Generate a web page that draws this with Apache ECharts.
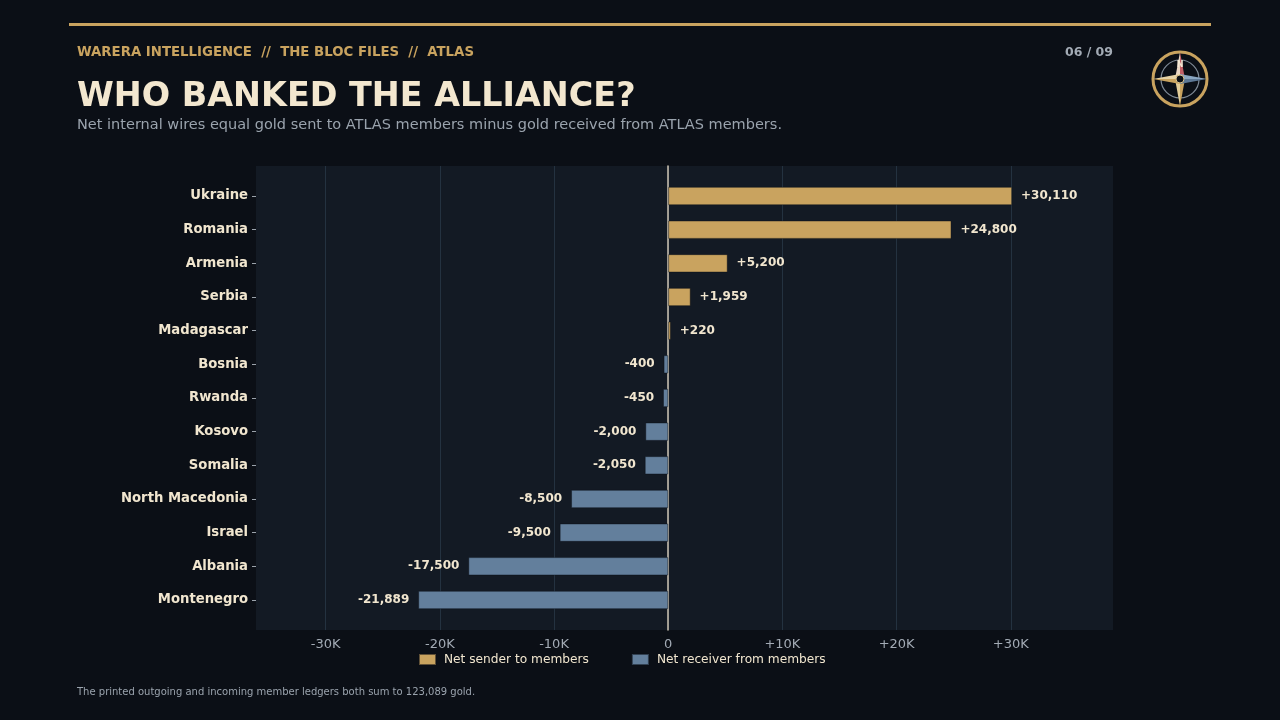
<!DOCTYPE html>
<html>
<head>
<meta charset="utf-8">
<script src="https://cdn.jsdelivr.net/npm/echarts@6/dist/echarts.min.js"></script>
<style>
html,body{margin:0;padding:0;background:#0b0f16;}
#c{width:1280px;height:720px;}
</style>
</head>
<body>
<div id="c"></div>
<script>
const categories = ["Ukraine","Romania","Armenia","Serbia","Madagascar","Bosnia","Rwanda","Kosovo","Somalia","North Macedonia","Israel","Albania","Montenegro"];
const netValues = [30110, 24800, 5200, 1959, 220, -400, -450, -2000, -2050, -8500, -9500, -17500, -21889];
const tickValues = [-30000, -20000, -10000, 0, 10000, 20000, 30000];
const tickLabels = ["-30K", "-20K", "-10K", "0", "+10K", "+20K", "+30K"];
const seriesNames = ["Net sender to members", "Net receiver from members"];

const GOLD = '#c9a35f', BLUE = '#637f9c', CREAM = '#f1e6cf', GRAY = '#a3abb5', FONT = 'DejaVu Sans';
const XMIN = -36100, XMAX = 38950;

const senders = netValues.map(v => v >= 0 ? v : '-');
const receivers = netValues.map(v => v < 0 ? v : '-');
const fmt = v => (v > 0 ? '+' : '') + v.toLocaleString('en-US');

const chart = echarts.init(document.getElementById('c'), null, {renderer: 'canvas'});
const cx = 1180, cy = 79;
const option = {
  backgroundColor: '#0b0f16',
  animation: false,
  textStyle: {fontFamily: FONT},
  grid: [
    {left: 256, right: 167, top: 166, bottom: 90, show: true, backgroundColor: '#131a24', borderWidth: 0},
    {left: 256, right: 167, top: 179.2, bottom: 103.2, show: false}
  ],
  legend: {
    left: 418, top: 653, padding: 0, itemWidth: 17, itemHeight: 11, itemGap: 42,
    icon: 'rect',
    textStyle: {color: CREAM, fontSize: 12.2, fontFamily: FONT, padding: [0, 0, 0, 3]},
    data: seriesNames
  },
  xAxis: [
    {
      type: 'value', gridIndex: 0, min: XMIN, max: XMAX,
      axisLine: {show: false},
      axisTick: {show: false, customValues: tickValues},
      splitLine: {show: true, lineStyle: {color: '#243240', width: 1}},
      axisLabel: {
        customValues: tickValues, color: GRAY, fontSize: 13, margin: 8, fontFamily: FONT,
        formatter: v => { const i = tickValues.indexOf(v); return i >= 0 ? tickLabels[i] : ''; }
      }
    },
    {
      type: 'value', gridIndex: 1, min: XMIN, max: XMAX,
      axisLine: {show: false}, axisTick: {show: false}, splitLine: {show: false}, axisLabel: {show: false}
    }
  ],
  yAxis: [
    {
      type: 'value', gridIndex: 0, min: 0, max: 1,
      axisLine: {show: true, onZero: true, lineStyle: {color: '#cfc6b4', width: 1.5}},
      axisTick: {show: false}, axisLabel: {show: false}, splitLine: {show: false}
    },
    {
      type: 'category', gridIndex: 1, data: categories, inverse: true,
      axisLine: {show: false, onZero: false},
      axisTick: {show: true, length: 4, alignWithLabel: true, lineStyle: {color: '#9aa2ab'}},
      axisLabel: {color: CREAM, fontSize: 13.2, fontWeight: 'bold', margin: 8, fontFamily: FONT}
    }
  ],
  series: [
    {
      name: seriesNames[0], type: 'bar', xAxisIndex: 1, yAxisIndex: 1, stack: 'net', data: senders, barWidth: '54%',
      itemStyle: {color: GOLD, borderColor: 'rgba(11,15,22,0.55)', borderWidth: 0.8},
      label: {show: true, position: 'right', distance: 9, color: CREAM, fontSize: 12, fontWeight: 'bold', fontFamily: FONT,
        formatter: p => fmt(p.value)},
      z: 3
    },
    {
      name: seriesNames[1], type: 'bar', xAxisIndex: 1, yAxisIndex: 1, stack: 'net', data: receivers, barWidth: '54%',
      itemStyle: {color: BLUE, borderColor: 'rgba(11,15,22,0.55)', borderWidth: 0.8},
      label: {show: true, position: 'left', distance: 9, color: CREAM, fontSize: 12, fontWeight: 'bold', fontFamily: FONT,
        formatter: p => fmt(p.value)},
      z: 3
    }
  ],
  graphic: [
    {type: 'rect', shape: {x: 69, y: 23, width: 1142, height: 3}, style: {fill: GOLD}, silent: true},
    {type: 'text', left: 77, top: 46, style: {text: 'WARERA INTELLIGENCE  //  THE BLOC FILES  //  ATLAS', fill: GOLD, font: 'bold 13.3px "DejaVu Sans"'}},
    {type: 'text', right: 167, top: 46, style: {text: '06 / 09', fill: GRAY, font: 'bold 12.5px "DejaVu Sans"', textAlign: 'right'}},
    {type: 'text', left: 77, top: 81, style: {text: 'WHO BANKED THE ALLIANCE?', fill: '#f3e7cf', font: 'bold 33.4px "DejaVu Sans"'}},
    {type: 'text', left: 77, top: 118, style: {text: 'Net internal wires equal gold sent to ATLAS members minus gold received from ATLAS members.', fill: '#9aa3ad', font: '14.5px "DejaVu Sans"'}},
    {type: 'text', left: 77, top: 687, style: {text: 'The printed outgoing and incoming member ledgers both sum to 123,089 gold.', fill: '#9aa3ad', font: '10px "DejaVu Sans"'}},
    // compass
    {type: 'circle', shape: {cx: cx, cy: cy, r: 27}, style: {fill: 'none', stroke: GOLD, lineWidth: 3}},
    {type: 'circle', shape: {cx: cx, cy: cy, r: 19}, style: {fill: 'none', stroke: '#7f8a96', lineWidth: 1.2}},
    {type: 'polygon', shape: {points: [[cx, cy - 27], [cx - 5, cy], [cx, cy]]}, style: {fill: '#e9d6c4'}},
    {type: 'polygon', shape: {points: [[cx, cy - 27], [cx + 5, cy], [cx, cy]]}, style: {fill: '#c25f66'}},
    {type: 'polygon', shape: {points: [[cx, cy + 27], [cx - 5, cy], [cx, cy]]}, style: {fill: '#e2cc98'}},
    {type: 'polygon', shape: {points: [[cx, cy + 27], [cx + 5, cy], [cx, cy]]}, style: {fill: GOLD}},
    {type: 'polygon', shape: {points: [[cx + 27, cy], [cx, cy - 5], [cx, cy]]}, style: {fill: '#8aa6c2'}},
    {type: 'polygon', shape: {points: [[cx + 27, cy], [cx, cy + 5], [cx, cy]]}, style: {fill: '#5d7895'}},
    {type: 'polygon', shape: {points: [[cx - 27, cy], [cx, cy - 5], [cx, cy]]}, style: {fill: '#e6d3a6'}},
    {type: 'polygon', shape: {points: [[cx - 27, cy], [cx, cy + 5], [cx, cy]]}, style: {fill: GOLD}},
    {type: 'circle', shape: {cx: cx, cy: cy, r: 4}, style: {fill: '#0b0f16', stroke: '#d9c08a', lineWidth: 1}},
    {type: 'text', x: cx, y: cy - 14, style: {text: 'N', fill: '#f6ead6', font: 'bold 8px "DejaVu Sans"', textAlign: 'center', textVerticalAlign: 'middle'}}
  ]
};
chart.setOption(option);
</script>
</body>
</html>
